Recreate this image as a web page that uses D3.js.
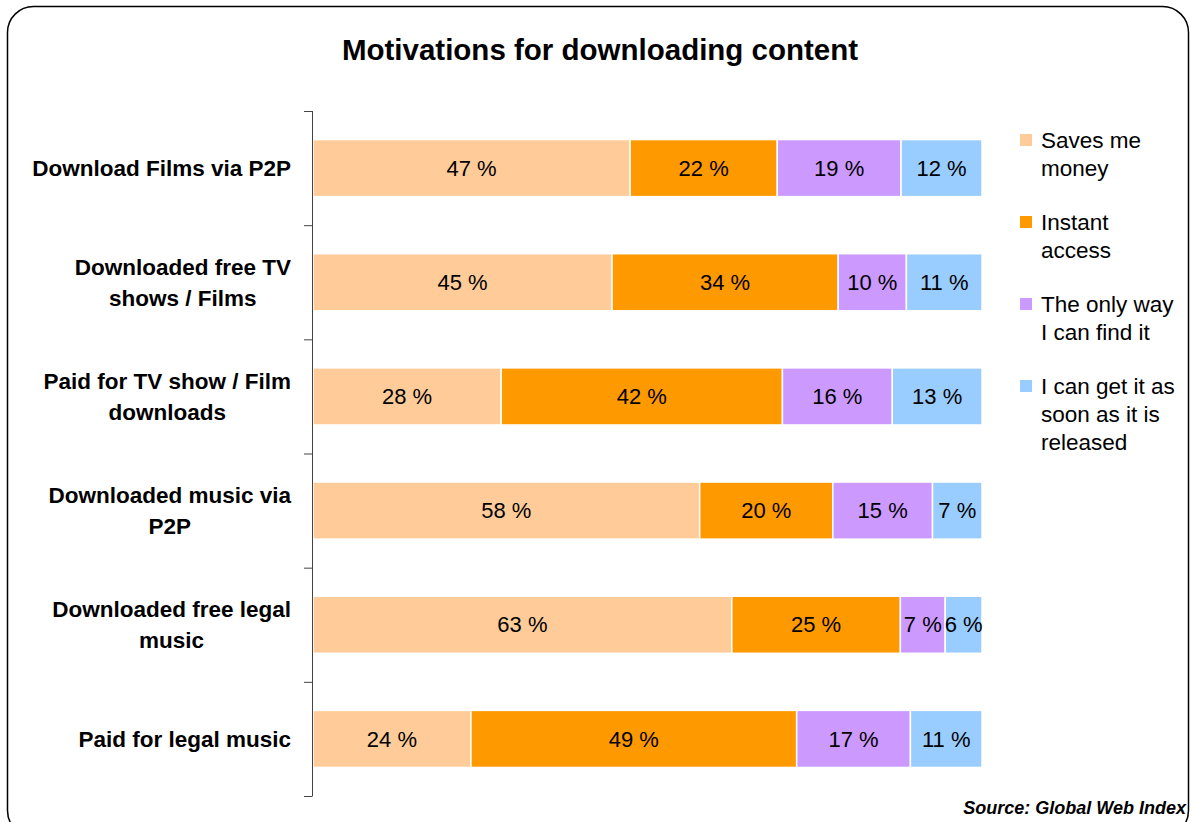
<!DOCTYPE html>
<html>
<head>
<meta charset="utf-8">
<script src="https://cdn.jsdelivr.net/npm/d3@7"></script>
<style>
  body { margin: 0; background: #fff; }
  text { font-family: "Liberation Sans", Arial, sans-serif; }
</style>
</head>
<body>
<script>
// data (share of each motivation, %)
const categories = [
  "Download Films via P2P",
  "Downloaded free TV shows / Films",
  "Paid for TV show / Film downloads",
  "Downloaded music via P2P",
  "Downloaded free legal music",
  "Paid for legal music"
];
const categoryLines = [
  ["Download Films via P2P"],
  ["Downloaded free TV", "shows / Films"],
  ["Paid for TV show / Film", "downloads"],
  ["Downloaded music via", "P2P"],
  ["Downloaded free legal", "music"],
  ["Paid for legal music"]
];
const seriesNames = ["Saves me money", "Instant access", "The only way I can find it", "I can get it as soon as it is released"];
const legendLines = [
  ["Saves me", "money"],
  ["Instant", "access"],
  ["The only way", "I can find it"],
  ["I can get it as", "soon as it is", "released"]
];
const savesMoney   = [47.4, 44.7, 28.1, 57.8, 62.6, 23.6];
const instant      = [22.0, 33.8, 42.0, 19.9, 25.2, 48.7];
const onlyWay      = [18.5, 10.2, 16.4, 14.9, 6.7, 17.0];
const soonReleased = [12.1, 11.3, 13.4, 7.4, 5.5, 10.7];
const colors = ["#FFCC99", "#FF9900", "#CC99FF", "#99CCFF"];

const W = 1193, H = 822;
const svg = d3.select("body").append("svg")
    .attr("width", W)
    .attr("height", H);

// rounded frame
svg.append("rect")
    .attr("x", 7.5).attr("y", 6.5)
    .attr("width", 1181).attr("height", 830)
    .attr("rx", 26)
    .attr("fill", "#fff")
    .attr("stroke", "#000")
    .attr("stroke-width", 1.5);

svg.append("text")
    .attr("x", 600).attr("y", 60)
    .attr("text-anchor", "middle")
    .style("font-size", "29.5px")
    .style("font-weight", "bold")
    .text("Motivations for downloading content");

const table = categories.map((c, i) => ({
    cat: c, s0: savesMoney[i], s1: instant[i], s2: onlyWay[i], s3: soonReleased[i]
}));
const keys = ["s0", "s1", "s2", "s3"];
const stack = d3.stack().keys(keys).offset(d3.stackOffsetExpand)(table);

const x = d3.scaleLinear().domain([0, 1]).range([313, 982]);
const y = d3.scaleBand().domain(categories).range([111, 796]).paddingInner(0.5).paddingOuter(0.25);

const layers = svg.selectAll("g.layer")
    .data(stack)
    .enter()
    .append("g")
    .attr("class", "layer")
    .attr("fill", (d, i) => colors[i]);

layers.selectAll("rect")
    .data(d => d)
    .enter()
    .append("rect")
    .attr("x", d => x(d[0]))
    .attr("y", d => y(d.data.cat))
    .attr("width", d => x(d[1]) - x(d[0]))
    .attr("height", y.bandwidth())
    .attr("stroke", "#fff")
    .attr("stroke-width", 1.5);

layers.each(function (layer) {
    d3.select(this).selectAll("text")
        .data(layer)
        .enter()
        .append("text")
        .attr("x", d => (x(d[0]) + x(d[1])) / 2)
        .attr("y", d => y(d.data.cat) + y.bandwidth() / 2)
        .attr("dy", "0.35em")
        .attr("text-anchor", "middle")
        .attr("fill", "#000")
        .style("font-size", "22px")
        .text(d => Math.round(d.data[layer.key]) + " %");
});

// category axis: line with ticks between groups
const axisG = svg.append("g");
axisG.append("line")
    .attr("x1", 312.5).attr("x2", 312.5)
    .attr("y1", 111).attr("y2", 796)
    .attr("stroke", "#444").attr("stroke-width", 1);
const step = (796 - 111) / categories.length;
axisG.selectAll("line.tick")
    .data(d3.range(categories.length + 1))
    .enter()
    .append("line")
    .attr("x1", 304).attr("x2", 312.5)
    .attr("y1", d => 111 + d * step + 0.5)
    .attr("y2", d => 111 + d * step + 0.5)
    .attr("stroke", "#444");

// labels: lines centred on each other, block right-aligned to the axis
const labelRight = 291;
axisG.selectAll("text")
    .data(categories)
    .enter()
    .append("text")
    .attr("text-anchor", "middle")
    .style("font-size", "22.5px")
    .style("font-weight", "bold")
    .each(function (c, i) {
        const lines = categoryLines[i];
        const cy = y(c) + y.bandwidth() / 2;
        const lh = 31;
        const spans = d3.select(this).selectAll("tspan")
            .data(lines)
            .enter()
            .append("tspan")
            .attr("y", (l, j) => cy + (j - (lines.length - 1) / 2) * lh)
            .attr("dy", "0.35em")
            .text(l => l);
        const maxW = d3.max(spans.nodes(), n => n.getComputedTextLength());
        spans.attr("x", labelRight - maxW / 2);
    });

// legend
const legend = svg.append("g");
const legendTop = [140, 222, 304, 386];
seriesNames.forEach((name, i) => {
    legend.append("rect")
        .attr("x", 1020).attr("y", legendTop[i] - 6)
        .attr("width", 12).attr("height", 12)
        .attr("fill", colors[i]);
    const t = legend.append("text").style("font-size", "22.5px");
    t.selectAll("tspan")
        .data(legendLines[i])
        .enter()
        .append("tspan")
        .attr("x", 1041)
        .attr("y", (l, j) => legendTop[i] + j * 28)
        .attr("dy", "0.35em")
        .text(l => l);
});

svg.append("text")
    .attr("x", 1186).attr("y", 814)
    .attr("text-anchor", "end")
    .style("font-size", "18px")
    .style("font-weight", "bold")
    .style("font-style", "italic")
    .text("Source: Global Web Index");
</script>
</body>
</html>
